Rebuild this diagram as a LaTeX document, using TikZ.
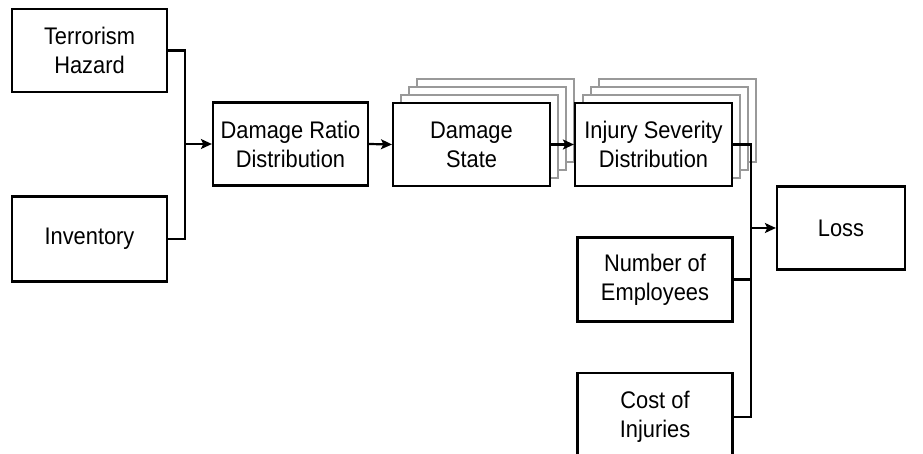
\documentclass[tikz,border=0pt]{standalone}
\usepackage{fontspec}
\setmainfont[FakeStretch=0.91]{Liberation Sans}
\usetikzlibrary{arrows.meta}
\begin{document}
\begin{tikzpicture}[x=1pt,y=-1pt,
  box/.style={draw=black,fill=white,line width=2.2pt,align=center,inner sep=0pt,
    font=\fontsize{24}{29}\selectfont},
  shadowbox/.style={draw=black!40,fill=white,line width=1.6pt},
  conn/.style={line width=2.2pt},
  arr/.style={conn,-{Stealth[length=11pt,width=10pt,inset=2.5pt]}}]
\clip (0,0) rectangle (923,454);
\useasboundingbox (0,0) rectangle (923,454);
% shadow stacks
\foreach \k in {3,2,1}{
  \draw[shadowbox] (393+8*\k,103-8*\k) rectangle (550+8*\k,186-8*\k);
  \draw[shadowbox] (575+8*\k,103-8*\k) rectangle (732+8*\k,186-8*\k);
}
\node[box,minimum width=155pt,minimum height=83pt] (th) at (89.5,50.5) {Terrorism\\Hazard};
\node[box,minimum width=155pt,minimum height=85pt] (inv) at (89.5,239) {Inventory};
\node[box,minimum width=155pt,minimum height=83pt] (drd) at (290.5,144) {Damage Ratio\\Distribution};
\node[box,minimum width=157pt,minimum height=83pt] (ds) at (471.5,144.5) {Damage\\State};
\node[box,minimum width=157pt,minimum height=83pt] (isd) at (653.5,144.5) {Injury Severity\\Distribution};
\node[box,minimum width=128pt,minimum height=83pt] (loss) at (841,228) {Loss};
\node[box,minimum width=155pt,minimum height=84pt] (noe) at (655,279.5) {Number of\\Employees};
\node[box,minimum width=155pt,minimum height=88pt] (coi) at (655,417) {Cost of\\Injuries};
\coordinate (j1) at (185,144);
\coordinate (j2) at (751,228);
\draw[conn] (th.east) -| (j1);
\draw[conn] (inv.east) -| (j1);
\draw[arr] (j1) -- (drd.west);
\draw[arr] (drd.east) -- (ds.west);
\draw[arr] (ds.east) -- (isd.west);
\draw[conn] (isd.east) -| (j2);
\draw[conn] (noe.east) -| (j2);
\draw[conn] (coi.east) -| (j2);
\draw[arr] (j2) -- (loss.west);
\end{tikzpicture}
\end{document}
